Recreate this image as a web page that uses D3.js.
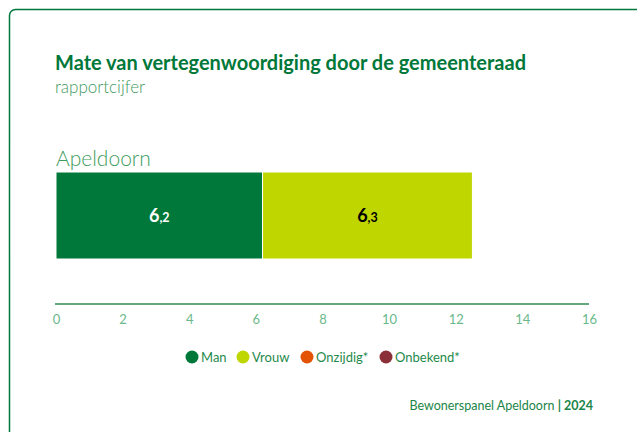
<!DOCTYPE html>
<html>
<head>
<meta charset="utf-8">
<style>
  body { margin: 0; background: #fff; }
  svg text { font-family: "Lato", "Open Sans", sans-serif; }
</style>
</head>
<body>
<div class="start"></div>
<script src="https://cdn.jsdelivr.net/npm/d3@7/dist/d3.min.js"></script>
<script>
var categories = ["Apeldoorn"];
var seriesNames = ["Man", "Vrouw", "Onzijdig*", "Onbekend*"];
var seriesColors = ["#00783a", "#bfd600", "#e35205", "#8b3038"];
var manValues = [6.2];
var vrouwValues = [6.3];
var onzijdigValues = [0];
var onbekendValues = [0];
var xTicks = [0, 2, 4, 6, 8, 10, 12, 14, 16];

var W = 637, H = 432;
var svg = d3.select('.start')
  .append('svg')
  .attr('width', W)
  .attr('height', H)
  .attr('class', 'canvas');

// card
svg.append('rect')
  .attr('x', 9.5).attr('y', 9.5)
  .attr('width', 640).attr('height', 460)
  .attr('rx', 6)
  .attr('fill', '#fff')
  .attr('stroke', '#00783a')
  .attr('stroke-width', 1.5);

svg.append('text')
  .attr('x', 55).attr('y', 70)
  .attr('font-size', 20).attr('font-weight', 700)
  .attr('fill', '#00783a')
  .attr('textLength', 471).attr('lengthAdjust', 'spacingAndGlyphs')
  .text('Mate van vertegenwoordiging door de gemeenteraad');

svg.append('text')
  .attr('x', 55).attr('y', 93)
  .attr('font-size', 17).attr('font-weight', 300)
  .attr('fill', '#3f9a5e')
  .text('rapportcijfer');

var x = d3.scaleLinear().domain([0, 16]).range([56, 589]);
var y = d3.scaleBand().domain(categories).range([172, 259]).padding(0);

var table = categories.map(function(c, i) {
  return { cat: c, Man: manValues[i], Vrouw: vrouwValues[i], "Onzijdig*": onzijdigValues[i], "Onbekend*": onbekendValues[i] };
});
var stacked = d3.stack().keys(seriesNames)(table);

var g = svg.append('g');
stacked.forEach(function(layer, li) {
  g.selectAll('.bar' + li)
    .data(layer)
    .enter()
    .append('rect')
    .attr('x', function(d) { return x(d[0]); })
    .attr('y', function(d) { return y(d.data.cat); })
    .attr('width', function(d) { return Math.max(0, x(d[1]) - x(d[0])); })
    .attr('height', y.bandwidth())
    .attr('fill', seriesColors[li])
    .attr('stroke', '#fff')
    .attr('stroke-width', function(d) { return d[1] > d[0] ? 1 : 0; });

  var lab = g.selectAll('.lab' + li)
    .data(layer.filter(function(d) { return d[1] > d[0]; }))
    .enter()
    .append('text')
    .attr('x', function(d) { return (x(d[0]) + x(d[1])) / 2; })
    .attr('y', function(d) { return y(d.data.cat) + y.bandwidth() / 2 + 6; })
    .attr('text-anchor', 'middle')
    .attr('font-weight', 700)
    .attr('fill', li === 0 ? '#fff' : '#000');
  lab.append('tspan').attr('font-size', 18)
    .text(function(d) { return Math.floor(d[1] - d[0]); });
  lab.append('tspan').attr('font-size', 12.5)
    .text(function(d) { return ',' + Math.round(((d[1] - d[0]) % 1) * 10); });
});

svg.selectAll('.cat')
  .data(categories)
  .enter()
  .append('text')
  .attr('x', 56)
  .attr('y', function(d) { return y(d) - 6; })
  .attr('font-size', 21).attr('font-weight', 300)
  .attr('fill', '#3f9c5e')
  .text(function(d) { return d; });

// axis
var axis = svg.append('g')
  .attr('transform', 'translate(0,304)')
  .call(d3.axisBottom(x).tickValues(xTicks).tickSize(0).tickPadding(11));
axis.select('.domain').attr('stroke', '#2f8a52').attr('stroke-width', 1.5)
  .attr('d', 'M55,0H589');
axis.selectAll('text')
  .attr('font-size', 13)
  .attr('fill', '#6ab88b')
  .style('font-family', 'Lato, sans-serif');

// legend
var legendX = [186, 237, 301, 380];
var leg = svg.selectAll('.leg')
  .data(seriesNames)
  .enter()
  .append('g')
  .attr('transform', function(d, i) { return 'translate(' + legendX[i] + ',357)'; });
leg.append('circle')
  .attr('cx', 6).attr('cy', 0).attr('r', 6.5)
  .attr('fill', function(d, i) { return seriesColors[i]; });
leg.append('text')
  .attr('x', 15).attr('y', 4.5)
  .attr('font-size', 13)
  .attr('fill', '#1f8a4c')
  .text(function(d) { return d; });

// footer
var foot = svg.append('text')
  .attr('x', 593).attr('y', 410)
  .attr('text-anchor', 'end')
  .attr('font-size', 12.5)
  .attr('fill', '#1a8548');
foot.append('tspan').text('Bewonerspanel Apeldoorn ');
foot.append('tspan').attr('font-weight', 700).text('| 2024');
</script>
</body>
</html>
